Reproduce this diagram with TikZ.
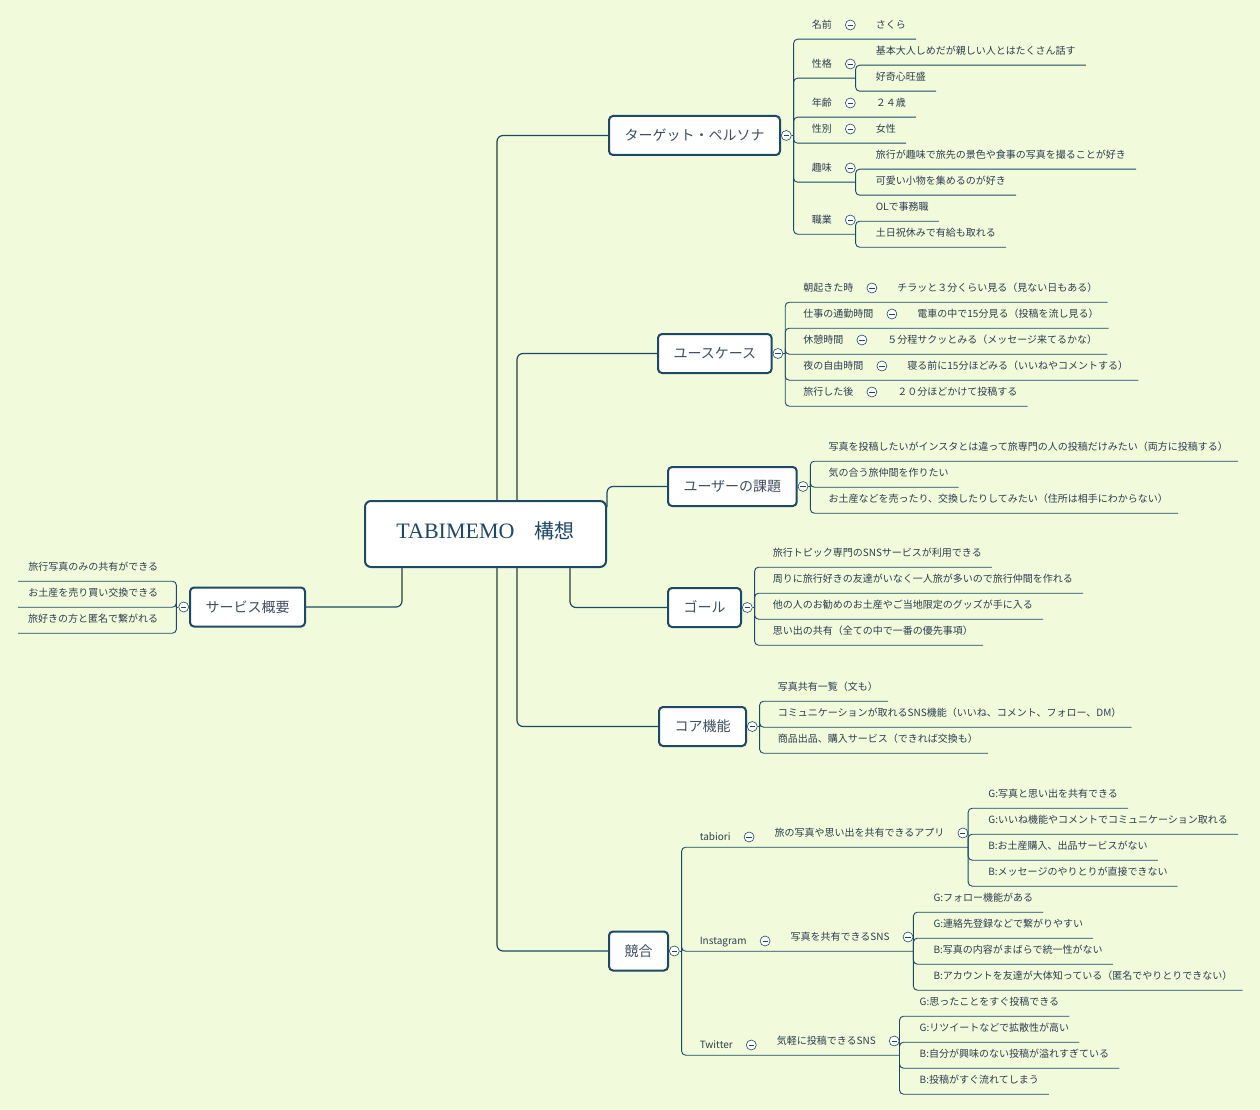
\documentclass[tikz,border=0pt]{standalone}
\usepackage{fontspec}
\setmainfont{Liberation Serif}
\newfontfamily\jp{Noto Sans CJK JP}
\usetikzlibrary{positioning}

\definecolor{bg}{RGB}{241,251,220}
\definecolor{ink}{RGB}{30,73,102}
\definecolor{stem}{RGB}{112,128,112}
\definecolor{txt}{RGB}{45,60,78}
\definecolor{ttl}{RGB}{62,78,96}

\tikzset{
  ln/.style={draw=ink, line width=0.9pt, rounded corners=4pt},
  trunk/.style={draw=stem, line width=1.2pt},
  rootbox/.style={draw=ink, line width=2pt, fill=white, rounded corners=6pt,
    minimum width=241pt, minimum height=66pt, inner sep=0pt, text=ink,
    text height=16pt, text depth=7pt},
  topic/.style={draw=ink, line width=2pt, fill=white, rounded corners=4pt,
    minimum height=39pt, inner xsep=15.5pt, inner ysep=0pt, anchor=west,
    text=ttl, font=\jp\fontsize{14}{16}\selectfont, text height=12.3pt, text depth=1.7pt},
  tog/.style={circle, draw=ink, line width=0.6pt, fill=white, minimum size=10pt, inner sep=0pt,
    path picture={\draw[ink, line width=0.7pt]
      ([xshift=-2.6pt]path picture bounding box.center) -- ([xshift=2.6pt]path picture bounding box.center);}},
  item/.style={anchor=west, inner xsep=10pt, inner ysep=0pt, minimum height=28pt,
    text height=8.8pt, text depth=1.2pt, text=txt, font=\jp\fontsize{10}{12}\selectfont},
  lab/.style={item, minimum height=20pt}
}

\begin{document}
\begin{tikzpicture}[x=1pt, y=-1pt]

% Page and background
\useasboundingbox (0,0) rectangle (1260,1110);
\fill[bg] (0,0) rectangle (1260,1110);

% Central topic
\node[rootbox] (root) at (485.5,534) {{\fontsize{22}{26}\selectfont TABIMEMO}{\jp\fontsize{20}{24}\selectfont 　構想}};

% Main topics
\node[topic] (tT) at (608,135.5) {ターゲット・ペルソナ};
\node[topic] (tU) at (657,353.5) {ユースケース};
\node[topic] (tK) at (667,486.5) {ユーザーの課題};
\node[topic] (tG) at (667,607.5) {ゴール};
\node[topic] (tC) at (658,726.5) {コア機能};
\node[topic] (tKy) at (608,951) {競合};
\node[topic] (tS) at (189,607) {サービス概要};

% Collapse buttons of the main topics
\node[tog, right=0pt of tT] (cT) {};
\node[tog, right=0pt of tU] (cU) {};
\node[tog, right=0pt of tK] (cK) {};
\node[tog, right=0pt of tG] (cG) {};
\node[tog, right=0pt of tC] (cC) {};
\node[tog, right=0pt of tKy] (cKy) {};
\node[tog, left=0pt of tS] (cS) {};

% Trunk lines from the central topic
\coordinate (xa) at (497,0);
\coordinate (xb) at (517,0);
\coordinate (xg) at (570,0);
\coordinate (xs) at (402,0);
\draw[ln, line width=1.2pt, rounded corners=6pt] (root.north -| xa) |- (tT.west);
\draw[ln, line width=1.2pt, rounded corners=6pt] (root.north -| xb) |- (tU.west);
\draw[ln, line width=1.2pt, rounded corners=6pt] (root.east |- tK.south) |- (tK.west);
\draw[ln, line width=1.2pt, rounded corners=6pt] (root.south -| xg) |- (tG.west);
\draw[ln, line width=1.2pt, rounded corners=6pt] (root.south -| xb) |- (tC.west);
\draw[ln, line width=1.2pt, rounded corners=6pt] (root.south -| xa) |- (tKy.west);
\draw[ln, line width=1.2pt, rounded corners=6pt] (root.south -| xs) |- (tS.east);
\draw[trunk, shorten >=6pt] (root.north -| xa) -- (xa |- tT.west);
\draw[trunk, shorten >=6pt] (root.north -| xb) -- (xb |- tU.west);
\draw[trunk, shorten >=6pt] (root.south -| xg) -- (xg |- tG.west);
\draw[trunk, shorten >=6pt] (root.south -| xb) -- (xb |- tC.west);
\draw[trunk, shorten >=6pt] (root.south -| xa) -- (xa |- tKy.west);
\draw[trunk, shorten >=6pt] (root.south -| xs) -- (xs |- tS.east);

% Target persona
\coordinate (bT) at ([xshift=2pt]cT.east);
\draw[ln] (cT.east) -- (bT);
\node[item, xshift=10pt] (p1) at (cT.east |- 0,25) {名前};
\node[tog, right=3pt of p1] (cp1) {};
\node[item, right=10pt of cp1] (q1) {さくら};
\node[item, xshift=10pt] (p2) at (cT.east |- 0,64) {性格};
\node[tog, right=3pt of p2] (cp2) {};
\node[item, xshift=10pt] (q21) at (cp2.east |- 0,51) {基本大人しめだが親しい人とはたくさん話す};
\node[item, xshift=10pt] (q22) at (cp2.east |- 0,77) {好奇心旺盛};
\node[item, xshift=10pt] (p3) at (cT.east |- 0,103) {年齢};
\node[tog, right=3pt of p3] (cp3) {};
\node[item, right=10pt of cp3] (q3) {２４歳};
\node[item, xshift=10pt] (p4) at (cT.east |- 0,129) {性別};
\node[tog, right=3pt of p4] (cp4) {};
\node[item, right=10pt of cp4] (q4) {女性};
\node[item, xshift=10pt] (p5) at (cT.east |- 0,168) {趣味};
\node[tog, right=3pt of p5] (cp5) {};
\node[item, xshift=10pt] (q51) at (cp5.east |- 0,155) {旅行が趣味で旅先の景色や食事の写真を撮ることが好き};
\node[item, xshift=10pt] (q52) at (cp5.east |- 0,181) {可愛い小物を集めるのが好き};
\node[item, xshift=10pt] (p6) at (cT.east |- 0,220) {職業};
\node[tog, right=3pt of p6] (cp6) {};
\node[item, xshift=10pt] (q61) at (cp6.east |- 0,207) {OLで事務職};
\node[item, xshift=10pt] (q62) at (cp6.east |- 0,233) {土日祝休みで有給も取れる};
\draw[ln] (bT) |- (q1.south east);
\draw[ln] (bT) |- (p2.south -| cp2.east);
\draw[ln] (p2.south -| cp2.east) |- (q21.south east);
\draw[ln] (p2.south -| cp2.east) |- (q22.south east);
\draw[ln] (bT) |- (q3.south east);
\draw[ln] (bT) |- (q4.south east);
\draw[ln] (bT) |- (p5.south -| cp5.east);
\draw[ln] (p5.south -| cp5.east) |- (q51.south east);
\draw[ln] (p5.south -| cp5.east) |- (q52.south east);
\draw[ln] (bT) |- (p6.south -| cp6.east);
\draw[ln] (p6.south -| cp6.east) |- (q61.south east);
\draw[ln] (p6.south -| cp6.east) |- (q62.south east);

% Use cases
\coordinate (bU) at ([xshift=2pt]cU.east);
\draw[ln] (cU.east) -- (bU);
\node[item, xshift=10pt] (u1) at (cU.east |- 0,288) {朝起きた時};
\node[tog, right=3pt of u1] (cu1) {};
\node[item, right=10pt of cu1] (v1) {チラッと３分くらい見る（見ない日もある）};
\node[item, xshift=10pt] (u2) at (cU.east |- 0,314) {仕事の通勤時間};
\node[tog, right=3pt of u2] (cu2) {};
\node[item, right=10pt of cu2] (v2) {電車の中で15分見る（投稿を流し見る）};
\node[item, xshift=10pt] (u3) at (cU.east |- 0,340) {休憩時間};
\node[tog, right=3pt of u3] (cu3) {};
\node[item, right=10pt of cu3] (v3) {５分程サクッとみる（メッセージ来てるかな）};
\node[item, xshift=10pt] (u4) at (cU.east |- 0,366) {夜の自由時間};
\node[tog, right=3pt of u4] (cu4) {};
\node[item, right=10pt of cu4] (v4) {寝る前に15分ほどみる（いいねやコメントする）};
\node[item, xshift=10pt] (u5) at (cU.east |- 0,392) {旅行した後};
\node[tog, right=3pt of u5] (cu5) {};
\node[item, right=10pt of cu5] (v5) {２０分ほどかけて投稿する};
\draw[ln] (bU) |- (v1.south east);
\draw[ln] (bU) |- (v2.south east);
\draw[ln] (bU) |- (v3.south east);
\draw[ln] (bU) |- (v4.south east);
\draw[ln] (bU) |- (v5.south east);

% User problems
\coordinate (bK) at ([xshift=2pt]cK.east);
\draw[ln] (cK.east) -- (bK);
\node[item, xshift=10pt] (k1) at (cK.east |- 0,447) {写真を投稿したいがインスタとは違って旅専門の人の投稿だけみたい（両方に投稿する）};
\node[item, xshift=10pt] (k2) at (cK.east |- 0,473) {気の合う旅仲間を作りたい};
\node[item, xshift=10pt] (k3) at (cK.east |- 0,499) {お土産などを売ったり、交換したりしてみたい（住所は相手にわからない）};
\draw[ln] (bK) |- (k1.south east);
\draw[ln] (bK) |- (k2.south east);
\draw[ln] (bK) |- (k3.south east);

% Goals
\coordinate (bG) at ([xshift=2pt]cG.east);
\draw[ln] (cG.east) -- (bG);
\node[item, xshift=10pt] (g1) at (cG.east |- 0,553) {旅行トピック専門のSNSサービスが利用できる};
\node[item, xshift=10pt] (g2) at (cG.east |- 0,579) {周りに旅行好きの友達がいなく一人旅が多いので旅行仲間を作れる};
\node[item, xshift=10pt] (g3) at (cG.east |- 0,605) {他の人のお勧めのお土産やご当地限定のグッズが手に入る};
\node[item, xshift=10pt] (g4) at (cG.east |- 0,631) {思い出の共有（全ての中で一番の優先事項）};
\draw[ln] (bG) |- (g1.south east);
\draw[ln] (bG) |- (g2.south east);
\draw[ln] (bG) |- (g3.south east);
\draw[ln] (bG) |- (g4.south east);

% Core features
\coordinate (bC) at ([xshift=2pt]cC.east);
\draw[ln] (cC.east) -- (bC);
\node[item, xshift=10pt] (f1) at (cC.east |- 0,687) {写真共有一覧（文も）};
\node[item, xshift=10pt] (f2) at (cC.east |- 0,713) {コミュニケーションが取れるSNS機能（いいね、コメント、フォロー、DM）};
\node[item, xshift=10pt] (f3) at (cC.east |- 0,739) {商品出品、購入サービス（できれば交換も）};
\draw[ln] (bC) |- (f1.south east);
\draw[ln] (bC) |- (f2.south east);
\draw[ln] (bC) |- (f3.south east);

% Service outline (left side)
\coordinate (bS) at ([xshift=-2pt]cS.west);
\draw[ln] (cS.west) -- (bS);
\node[item, anchor=east, xshift=-10pt] (s1) at (cS.west |- 0,567) {旅行写真のみの共有ができる};
\node[item, anchor=east, xshift=-10pt] (s2) at (cS.west |- 0,593) {お土産を売り買い交換できる};
\node[item, anchor=east, xshift=-10pt] (s3) at (cS.west |- 0,619) {旅好きの方と匿名で繋がれる};
\draw[ln] (bS) |- (s1.south west);
\draw[ln] (bS) |- (s2.south west);
\draw[ln] (bS) |- (s3.south west);

% Competitors
\coordinate (bKy) at ([xshift=2pt]cKy.east);
\draw[ln] (cKy.east) -- (bKy);
% tabiori
\node[lab, xshift=10pt] (la) at (cKy.east |- 0,837) {tabiori};
\node[tog, right=3pt of la] (cla) {};
\node[item, xshift=10pt] (da) at (cla.east |- 0,833) {旅の写真や思い出を共有できるアプリ};
\node[tog, right=3pt of da] (cda) {};
\node[item, xshift=10pt] (ea1) at (cda.east |- 0,794) {G:写真と思い出を共有できる};
\node[item, xshift=10pt] (ea2) at (cda.east |- 0,820) {G:いいね機能やコメントでコミュニケーション取れる};
\node[item, xshift=10pt] (ea3) at (cda.east |- 0,846) {B:お土産購入、出品サービスがない};
\node[item, xshift=10pt] (ea4) at (cda.east |- 0,872) {B:メッセージのやりとりが直接できない};
\draw[ln] (bKy) |- (la.south -| cda.east);
\draw[ln] (la.south -| cda.east) |- (ea1.south east);
\draw[ln] (la.south -| cda.east) |- (ea2.south east);
\draw[ln] (la.south -| cda.east) |- (ea3.south east);
\draw[ln] (la.south -| cda.east) |- (ea4.south east);
% Instagram
\node[lab, xshift=10pt] (lb) at (cKy.east |- 0,941) {Instagram};
\node[tog, right=3pt of lb] (clb) {};
\node[item, xshift=10pt] (db) at (clb.east |- 0,937) {写真を共有できるSNS};
\node[tog, right=3pt of db] (cdb) {};
\node[item, xshift=10pt] (eb1) at (cdb.east |- 0,898) {G:フォロー機能がある};
\node[item, xshift=10pt] (eb2) at (cdb.east |- 0,924) {G:連絡先登録などで繋がりやすい};
\node[item, xshift=10pt] (eb3) at (cdb.east |- 0,950) {B:写真の内容がまばらで統一性がない};
\node[item, xshift=10pt] (eb4) at (cdb.east |- 0,976) {B:アカウントを友達が大体知っている（匿名でやりとりできない）};
\draw[ln] (bKy) |- (lb.south -| cdb.east);
\draw[ln] (lb.south -| cdb.east) |- (eb1.south east);
\draw[ln] (lb.south -| cdb.east) |- (eb2.south east);
\draw[ln] (lb.south -| cdb.east) |- (eb3.south east);
\draw[ln] (lb.south -| cdb.east) |- (eb4.south east);
% Twitter
\node[lab, xshift=10pt] (lc) at (cKy.east |- 0,1045) {Twitter};
\node[tog, right=3pt of lc] (clc) {};
\node[item, xshift=10pt] (dc) at (clc.east |- 0,1041) {気軽に投稿できるSNS};
\node[tog, right=3pt of dc] (cdc) {};
\node[item, xshift=10pt] (ec1) at (cdc.east |- 0,1002) {G:思ったことをすぐ投稿できる};
\node[item, xshift=10pt] (ec2) at (cdc.east |- 0,1028) {G:リツイートなどで拡散性が高い};
\node[item, xshift=10pt] (ec3) at (cdc.east |- 0,1054) {B:自分が興味のない投稿が溢れすぎている};
\node[item, xshift=10pt] (ec4) at (cdc.east |- 0,1080) {B:投稿がすぐ流れてしまう};
\draw[ln] (bKy) |- (lc.south -| cdc.east);
\draw[ln] (lc.south -| cdc.east) |- (ec1.south east);
\draw[ln] (lc.south -| cdc.east) |- (ec2.south east);
\draw[ln] (lc.south -| cdc.east) |- (ec3.south east);
\draw[ln] (lc.south -| cdc.east) |- (ec4.south east);

\end{tikzpicture}
\end{document}
